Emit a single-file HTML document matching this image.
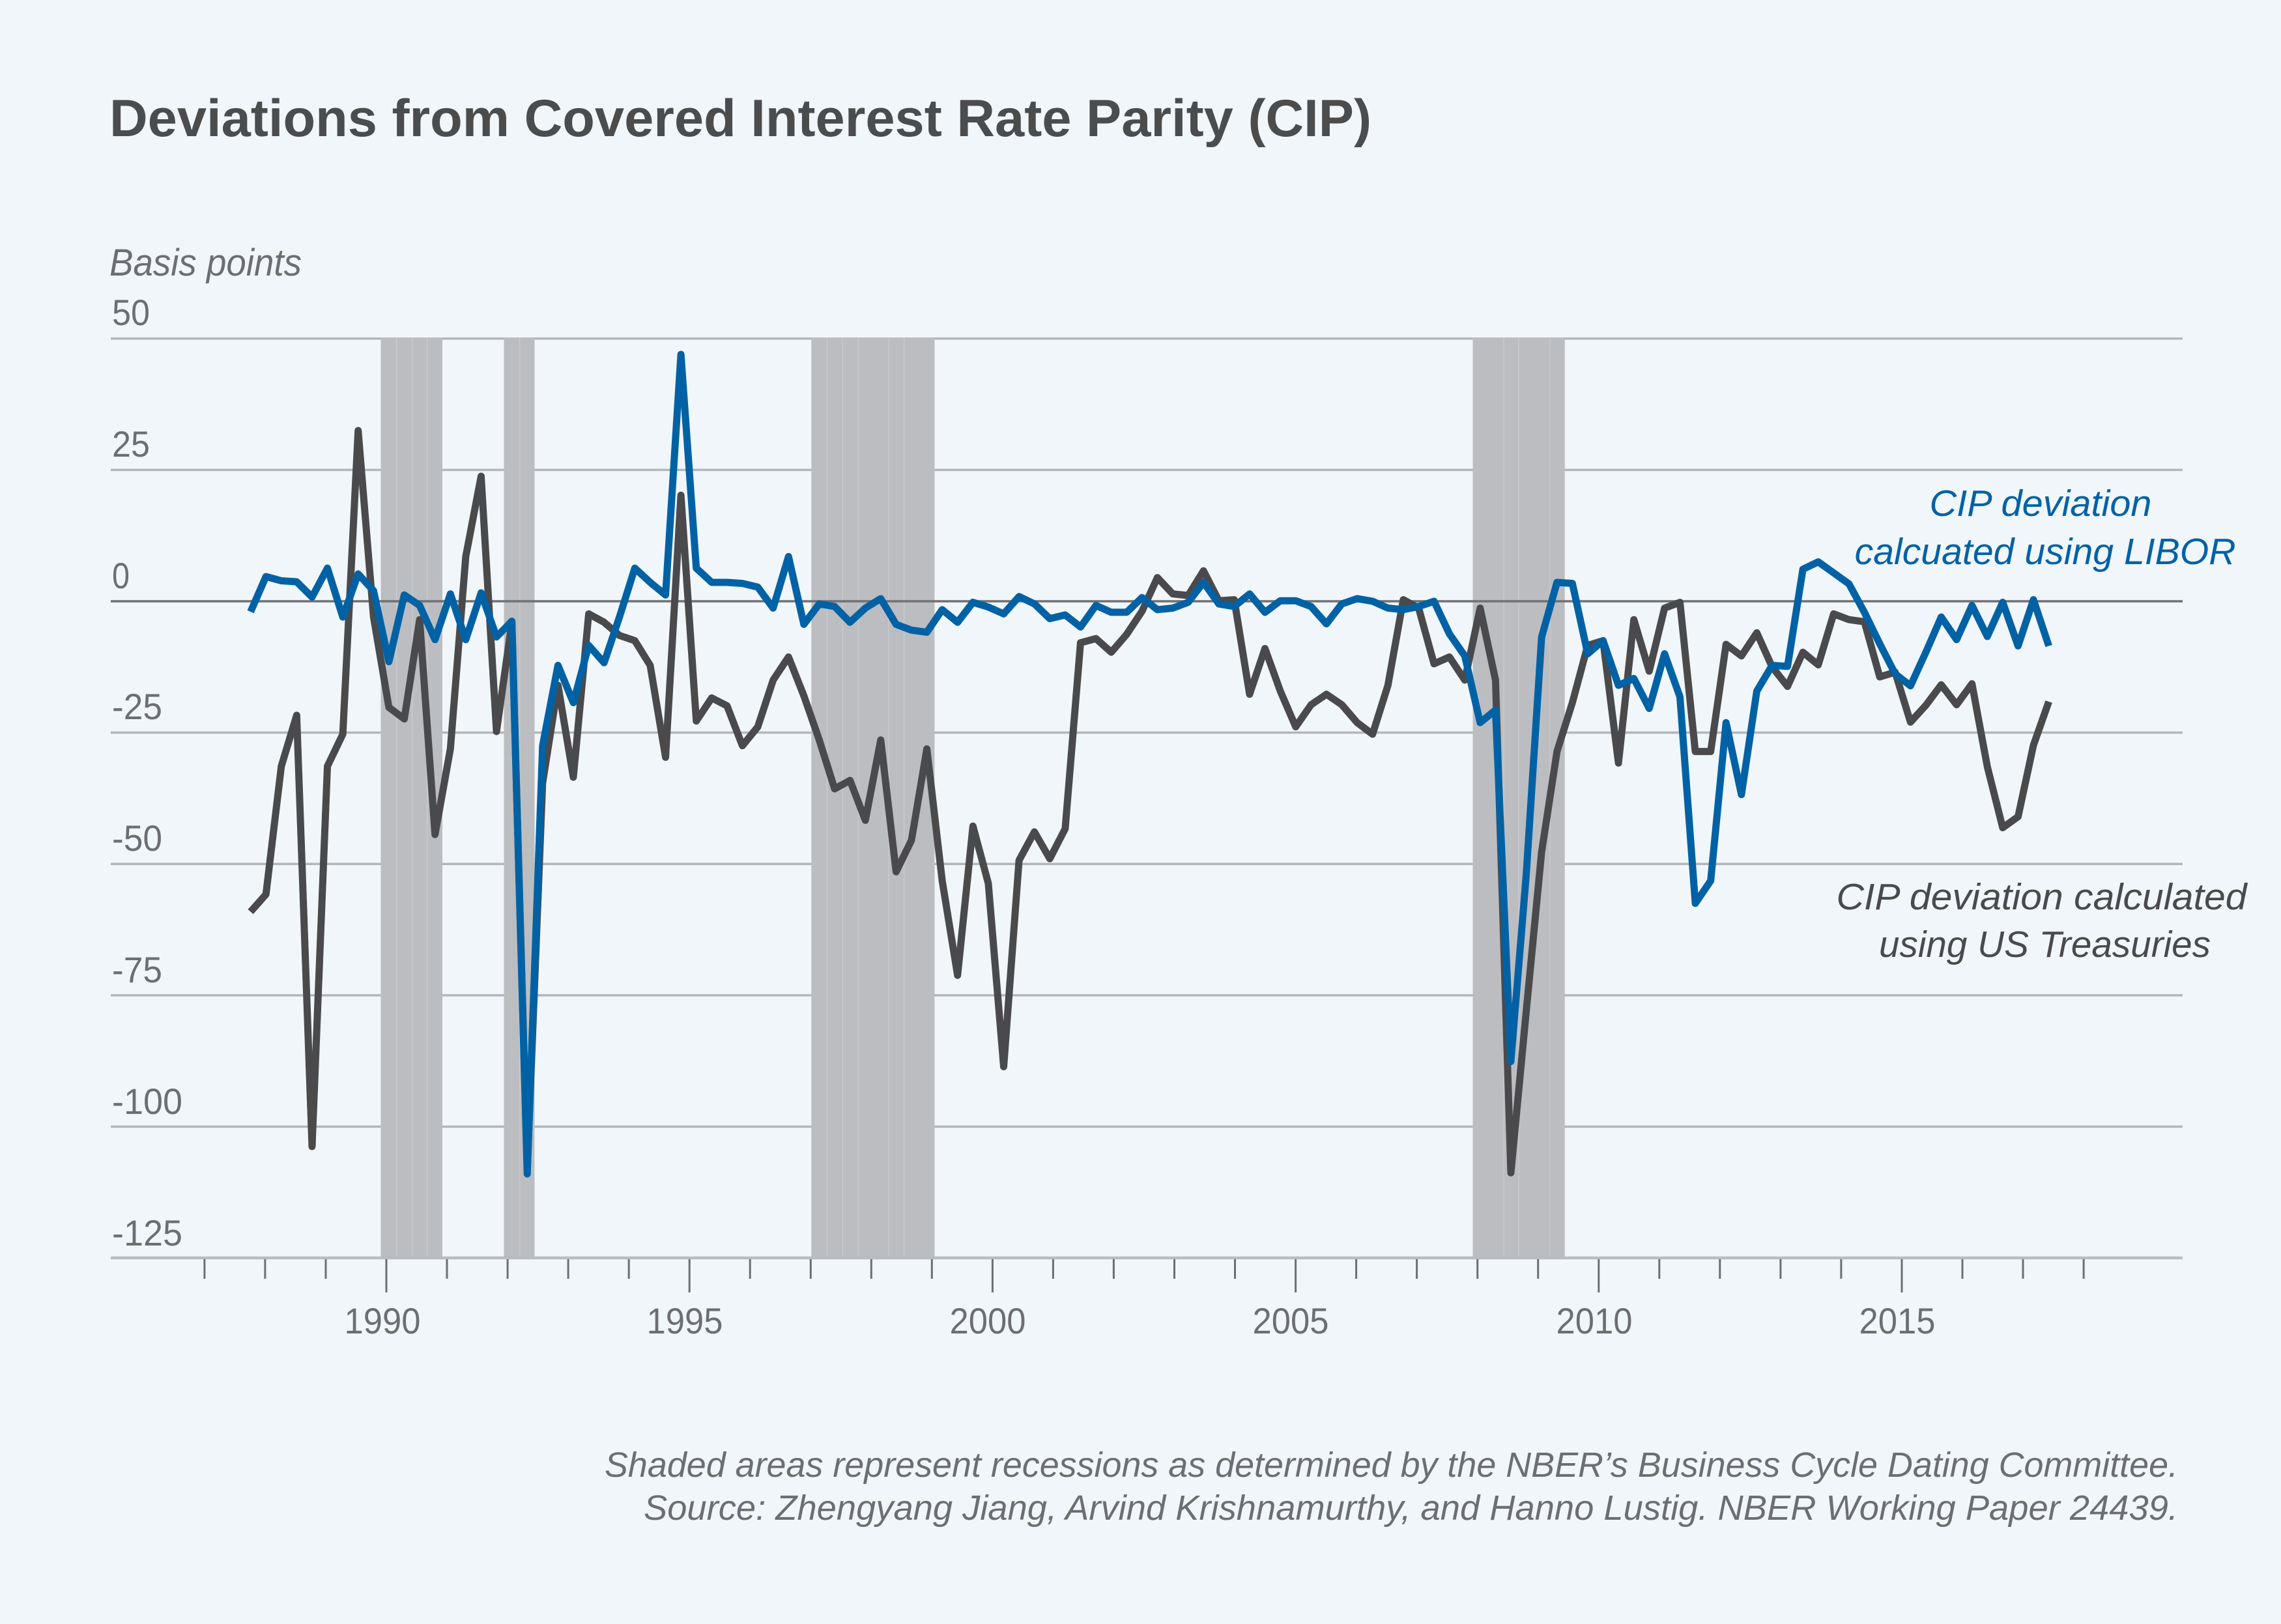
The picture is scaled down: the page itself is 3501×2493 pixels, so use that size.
<!DOCTYPE html>
<html>
<head>
<meta charset="utf-8">
<style>
  html, body { margin: 0; padding: 0; background: #f1f6fa; }
  body { width: 3501px; height: 2493px; overflow: hidden; }
  svg { display: block; }
  text { font-family: "Liberation Sans", sans-serif; }
</style>
</head>
<body>
<svg width="3501" height="2493" viewBox="0 0 3501 2493" xmlns="http://www.w3.org/2000/svg">
  <rect x="0" y="0" width="3501" height="2493" fill="#f1f6fa"/>

  <!-- Title -->
  <text x="168" y="209" font-size="81" font-weight="bold" fill="#4b4c4e" textLength="1937" lengthAdjust="spacingAndGlyphs">Deviations from Covered Interest Rate Parity (CIP)</text>

  <!-- Axis unit -->
  <text x="168" y="423" font-size="58" font-style="italic" fill="#6d6e71" textLength="295" lengthAdjust="spacingAndGlyphs">Basis points</text>

  <!-- Gridlines -->
  <g stroke="#b3b6ba" stroke-width="3.5">
    <line x1="170" y1="519.7" x2="3350" y2="519.7"/>
    <line x1="170" y1="721.4" x2="3350" y2="721.4"/>
    <line x1="170" y1="1124.6" x2="3350" y2="1124.6"/>
    <line x1="170" y1="1326.3" x2="3350" y2="1326.3"/>
    <line x1="170" y1="1527.9" x2="3350" y2="1527.9"/>
    <line x1="170" y1="1729.5" x2="3350" y2="1729.5"/>
  </g>

  <!-- Recession bands -->
  <g fill="#bcbdc1">
    <rect x="584.5" y="518" width="94.5" height="1413"/>
    <rect x="773.5" y="518" width="47" height="1413"/>
    <rect x="1245.3" y="518" width="189.1" height="1413"/>
    <rect x="2260.5" y="518" width="141.2" height="1413"/>
  </g>
  <g stroke="#c9cacd" stroke-width="1.5">
    <line x1="608.6" y1="518" x2="608.6" y2="1931"/>
    <line x1="632.7" y1="518" x2="632.7" y2="1931"/>
    <line x1="655.6" y1="518" x2="655.6" y2="1931"/>
    <line x1="797.6" y1="518" x2="797.6" y2="1931"/>
    <line x1="1269.5" y1="518" x2="1269.5" y2="1931"/>
    <line x1="1293.2" y1="518" x2="1293.2" y2="1931"/>
    <line x1="1317.3" y1="518" x2="1317.3" y2="1931"/>
    <line x1="1364" y1="518" x2="1364" y2="1931"/>
    <line x1="1387.7" y1="518" x2="1387.7" y2="1931"/>
    <line x1="2308" y1="518" x2="2308" y2="1931"/>
    <line x1="2331" y1="518" x2="2331" y2="1931"/>
    <line x1="2379" y1="518" x2="2379" y2="1931"/>
  </g>

  <!-- Zero line -->
  <line x1="170" y1="923" x2="3350" y2="923" stroke="#707174" stroke-width="3.5"/>

  <!-- Bottom axis -->
  <line x1="170" y1="1931" x2="3350" y2="1931" stroke="#b9bcc0" stroke-width="4.5"/>

  <!-- Y tick labels -->
  <g font-size="56" fill="#6d6e71">
    <text x="172" y="499" textLength="58" lengthAdjust="spacingAndGlyphs">50</text>
    <text x="172" y="701" textLength="58" lengthAdjust="spacingAndGlyphs">25</text>
    <text x="172" y="903" textLength="27" lengthAdjust="spacingAndGlyphs">0</text>
    <text x="172" y="1104" textLength="77" lengthAdjust="spacingAndGlyphs">-25</text>
    <text x="172" y="1306" textLength="77" lengthAdjust="spacingAndGlyphs">-50</text>
    <text x="172" y="1508" textLength="77" lengthAdjust="spacingAndGlyphs">-75</text>
    <text x="172" y="1710" textLength="108" lengthAdjust="spacingAndGlyphs">-100</text>
    <text x="172" y="1912" textLength="108" lengthAdjust="spacingAndGlyphs">-125</text>
  </g>

  <!-- X ticks -->
  <g stroke="#6d6e71" stroke-width="3">
    <line x1="313.9" y1="1933" x2="313.9" y2="1963"/>
    <line x1="406.9" y1="1933" x2="406.9" y2="1963"/>
    <line x1="500.0" y1="1933" x2="500.0" y2="1963"/>
    <line x1="593.0" y1="1933" x2="593.0" y2="1984"/>
    <line x1="686.0" y1="1933" x2="686.0" y2="1963"/>
    <line x1="779.1" y1="1933" x2="779.1" y2="1963"/>
    <line x1="872.1" y1="1933" x2="872.1" y2="1963"/>
    <line x1="965.2" y1="1933" x2="965.2" y2="1963"/>
    <line x1="1058.2" y1="1933" x2="1058.2" y2="1984"/>
    <line x1="1151.2" y1="1933" x2="1151.2" y2="1963"/>
    <line x1="1244.3" y1="1933" x2="1244.3" y2="1963"/>
    <line x1="1337.3" y1="1933" x2="1337.3" y2="1963"/>
    <line x1="1430.3" y1="1933" x2="1430.3" y2="1963"/>
    <line x1="1523.4" y1="1933" x2="1523.4" y2="1984"/>
    <line x1="1616.4" y1="1933" x2="1616.4" y2="1963"/>
    <line x1="1709.4" y1="1933" x2="1709.4" y2="1963"/>
    <line x1="1802.5" y1="1933" x2="1802.5" y2="1963"/>
    <line x1="1895.5" y1="1933" x2="1895.5" y2="1963"/>
    <line x1="1988.6" y1="1933" x2="1988.6" y2="1984"/>
    <line x1="2081.6" y1="1933" x2="2081.6" y2="1963"/>
    <line x1="2174.6" y1="1933" x2="2174.6" y2="1963"/>
    <line x1="2267.7" y1="1933" x2="2267.7" y2="1963"/>
    <line x1="2360.7" y1="1933" x2="2360.7" y2="1963"/>
    <line x1="2453.8" y1="1933" x2="2453.8" y2="1984"/>
    <line x1="2546.8" y1="1933" x2="2546.8" y2="1963"/>
    <line x1="2639.8" y1="1933" x2="2639.8" y2="1963"/>
    <line x1="2732.9" y1="1933" x2="2732.9" y2="1963"/>
    <line x1="2825.9" y1="1933" x2="2825.9" y2="1963"/>
    <line x1="2919.0" y1="1933" x2="2919.0" y2="1984"/>
    <line x1="3012.0" y1="1933" x2="3012.0" y2="1963"/>
    <line x1="3105.0" y1="1933" x2="3105.0" y2="1963"/>
    <line x1="3198.1" y1="1933" x2="3198.1" y2="1963"/>
  </g>

  <!-- X labels -->
  <g font-size="56" fill="#6d6e71" text-anchor="middle">
    <text x="587" y="2047" textLength="117" lengthAdjust="spacingAndGlyphs">1990</text>
    <text x="1051" y="2047" textLength="117" lengthAdjust="spacingAndGlyphs">1995</text>
    <text x="1516" y="2047" textLength="117" lengthAdjust="spacingAndGlyphs">2000</text>
    <text x="1981" y="2047" textLength="117" lengthAdjust="spacingAndGlyphs">2005</text>
    <text x="2447" y="2047" textLength="117" lengthAdjust="spacingAndGlyphs">2010</text>
    <text x="2912" y="2047" textLength="117" lengthAdjust="spacingAndGlyphs">2015</text>
  </g>

  <!-- Series -->
  <g transform="translate(384.6,923) scale(23.59,-8.065)">
    <polyline fill="none" stroke="#4a4a4c" stroke-width="11" vector-effect="non-scaling-stroke" stroke-linejoin="round" stroke-linecap="butt"
      points="0,-59.1 1,-55.8 2,-31.4 3,-21.7 4,-103.8 5,-31.4 6,-25.3 7,32.5 8,-3 9,-20.2 10,-22.4 11,-3.5 12,-44.4 13,-28.1 14,8.5 15,23.8 16,-24.8 17,-4 18,-108 19,-34.6 20,-16 21,-33.5 22,-2.4 23,-4 24,-6.5 25,-7.5 26,-12.2 27,-29.7 28,20.2 29,-22.8 30,-18.4 31,-19.9 32,-27.5 33,-23.9 34,-15 35,-10.6 36,-18 37,-26.4 38,-35.7 39,-34.1 40,-41.7 41,-26.4 42,-51.5 43,-45.5 44,-28.1 45,-53.2 46,-71.2 47,-42.8 48,-53.7 49,-88.6 50,-49.3 51,-43.9 52,-49 53,-43.3 54,-7.9 55,-7.1 56,-9.7 57,-6.3 58,-1.9 59,4.5 60,1.4 61,1.1 62,5.8 63,0.1 64,0.3 65,-17.7 66,-9 67,-17.1 68,-23.9 69,-19.7 70,-17.7 71,-19.7 72,-23.1 73,-25.3 74,-16 75,0.3 76,-1.3 77,-11.9 78,-10.6 79,-15 80,-1.3 81,-15 82,-108.8 83,-78 84,-47.7 85,-28.6 86,-19.3 87,-8.4 88,-7.5 89,-30.8 90,-3.5 91,-13.3 92,-1.3 93,-0.2 94,-28.6 95,-28.6 96,-8.2 97,-10.4 98,-6 99,-12.5 100,-16.2 101,-9.7 102,-12.1 103,-2.4 104,-3.5 105,-3.9 106,-14.4 107,-13.5 108,-23 109,-19.8 110,-15.9 111,-19.7 112,-15.7 113,-31.5 114,-43.1 115,-41 116,-27.4 117,-19.1"/>
    <polyline fill="none" stroke="#0062a5" stroke-width="11" vector-effect="non-scaling-stroke" stroke-linejoin="round" stroke-linecap="butt"
      points="0,-2 1,4.7 2,3.9 3,3.7 4,0.8 5,6.3 6,-3 7,5.2 8,2 9,-11.5 10,1.2 11,-0.8 12,-7.3 13,1.4 14,-7.3 15,1.6 16,-6.8 17,-3.8 18,-109 19,-27.5 20,-12.2 21,-19.3 22,-8.4 23,-11.7 24,-3 25,6.3 26,3.6 27,1.2 28,47 29,6.3 30,3.6 31,3.6 32,3.4 33,2.7 34,-1.3 35,8.5 36,-4.4 37,-0.5 38,-1 39,-4 40,-1.3 41,0.5 42,-4.4 43,-5.5 44,-5.9 45,-1.6 46,-4 47,-0.2 48,-1.1 49,-2.4 50,0.9 51,-0.5 52,-3.3 53,-2.6 54,-4.9 55,-0.8 56,-2.1 57,-2.1 58,0.7 59,-1.6 60,-1.3 61,-0.2 62,3.6 63,-0.5 64,-1 65,1.4 66,-2.1 67,0.1 68,0.1 69,-1 70,-4.3 71,-0.5 72,0.5 73,0 74,-1.3 75,-1.6 76,-1 77,0 78,-6.2 79,-10.4 80,-23.1 81,-20.7 82,-87.6 83,-52 84,-6.8 85,3.6 86,3.4 87,-10 88,-7.5 89,-16 90,-14.7 91,-20.4 92,-10 93,-18.2 94,-57.5 95,-53.2 96,-23.1 97,-36.8 98,-17.1 99,-12.2 100,-12.4 101,6.1 102,7.5 103,5.4 104,3.3 105,-2.1 106,-8.1 107,-13.8 108,-16.1 109,-9.7 110,-3 111,-7.3 112,-0.8 113,-6.7 114,-0.2 115,-8.5 116,0.3 117,-8.5"/>
  </g>

  <!-- Series labels -->
  <g font-size="57" font-style="italic" fill="#0062a5">
    <text x="2961.5" y="792" textLength="341" lengthAdjust="spacingAndGlyphs">CIP deviation</text>
    <text x="2846.6" y="866" textLength="585" lengthAdjust="spacingAndGlyphs">calcuated using LIBOR</text>
  </g>
  <g font-size="57" font-style="italic" fill="#4a4a4c">
    <text x="2818.5" y="1396" textLength="630" lengthAdjust="spacingAndGlyphs">CIP deviation calculated</text>
    <text x="2884" y="1469" textLength="509" lengthAdjust="spacingAndGlyphs">using US Treasuries</text>
  </g>

  <!-- Footer -->
  <g font-size="54" font-style="italic" fill="#6d6e71" text-anchor="end">
    <text x="3343" y="2267" textLength="2415" lengthAdjust="spacingAndGlyphs">Shaded areas represent recessions as determined by the NBER’s Business Cycle Dating Committee.</text>
    <text x="3343" y="2333" textLength="2355" lengthAdjust="spacingAndGlyphs">Source: Zhengyang Jiang, Arvind Krishnamurthy, and Hanno Lustig. NBER Working Paper 24439.</text>
  </g>
</svg>
</body>
</html>
